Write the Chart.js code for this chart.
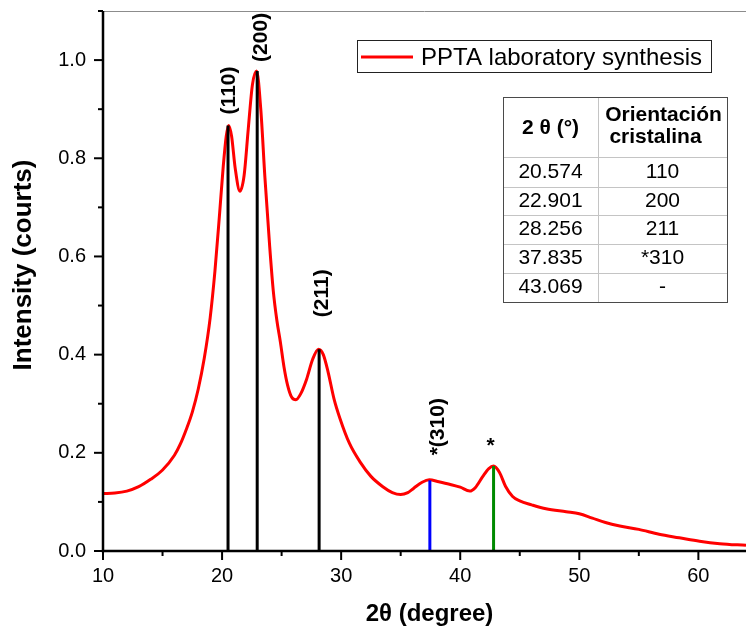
<!DOCTYPE html>
<html lang="es">
<head>
<meta charset="UTF-8">
<title>DRX PPTA</title>
<script src="https://cdn.jsdelivr.net/npm/chart.js"></script>
<style>
  html, body { margin: 0; padding: 0; background: #fff; }
  #wrap { width: 746px; height: 628px; }
</style>
</head>
<body>
<div id="wrap"><canvas id="grafico" width="746" height="628"></canvas></div>
<script>
// difractograma
const twoTheta = [10, 11, 12, 13, 14, 15, 16, 16.5, 17, 17.5, 18, 18.5, 19, 19.4, 19.8, 20.1, 20.35, 20.55, 20.8, 21.1,
  21.5, 21.85, 22.2, 22.55, 22.9, 23.25, 23.6, 24.0, 24.3, 24.6, 24.9, 25.2, 25.5, 25.85, 26.2, 26.6, 27.1, 27.6, 28.1, 28.5,
  28.9, 29.4, 29.9, 30.7, 31.6, 32.5, 33.5, 34.3, 35.0, 35.6, 36.1, 36.8, 37.4, 38.2, 39.1, 40.0, 40.8, 41.3, 41.9, 42.4,
  42.8, 43.3, 43.8, 44.4, 45.0, 46.0, 47.2, 48.9, 50.0, 51.1, 52.2, 53.4, 55.0, 56.7, 58.4, 60.1, 61.8, 64.0];
const intensity = [0.117, 0.118, 0.122, 0.131, 0.146, 0.165, 0.195, 0.218, 0.248, 0.283, 0.33, 0.392, 0.475, 0.57, 0.69, 0.784, 0.845, 0.867, 0.845, 0.78,
  0.733, 0.765, 0.86, 0.95, 0.978, 0.9, 0.76, 0.62, 0.53, 0.47, 0.425, 0.375, 0.338, 0.313, 0.308, 0.32, 0.35, 0.39, 0.411, 0.4,
  0.365, 0.31, 0.27, 0.219, 0.181, 0.152, 0.131, 0.119, 0.115, 0.119, 0.128, 0.14, 0.145, 0.141, 0.136, 0.13, 0.122, 0.13, 0.152, 0.168,
  0.173, 0.16, 0.132, 0.111, 0.102, 0.094, 0.086, 0.08, 0.076, 0.067, 0.058, 0.051, 0.044, 0.034, 0.027, 0.02, 0.015, 0.0115];

// líneas de los picos indexados
const peakPos = [20.5, 22.95, 28.15, 37.45, 42.8];
const peakHeight = [0.867, 0.978, 0.411, 0.144, 0.173];
const peakLabels = ['(110)', '(200)', '(211)', '*(310)', '*'];

// tabla
const tableAngles = ['20.574', '22.901', '28.256', '37.835', '43.069'];
const tableOrientation = ['110', '200', '211', '*310', '-'];

const xTicks = [10, 20, 30, 40, 50, 60];
const yTicks = [0.0, 0.2, 0.4, 0.6, 0.8, 1.0];

const seriesName = 'PPTA laboratory synthesis';

const FONT = "'Liberation Sans', Arial, sans-serif";
const dropColors = ['#000000', '#000000', '#000000', '#0000ff', '#008a00'];
// desplazamiento de las etiquetas respecto al pico (px)
const labelDx = [1, 4, 3.5, 8, -3];
const labelGap = [11, 9, 32, 25, 14];

const decor = {
    id: 'decor',
    afterDraw(chart) {
        const { ctx, chartArea: a, scales: { x, y } } = chart;
        ctx.save();

        function seg(x1, y1, x2, y2) {
            ctx.beginPath(); ctx.moveTo(x1, y1); ctx.lineTo(x2, y2); ctx.stroke();
        }

        // marco superior gris
        ctx.strokeStyle = '#8c8c8c';
        ctx.lineWidth = 1;
        seg(a.left, a.top + 0.5, a.right, a.top + 0.5);

        // ejes
        ctx.strokeStyle = '#000';
        ctx.lineWidth = 2.5;
        seg(a.left, a.top, a.left, a.bottom + 1.2);
        seg(a.left - 1.2, a.bottom, a.right, a.bottom);

        ctx.lineWidth = 2;
        for (let v = 10; v <= 64; v += 5) {
            const px = x.getPixelForValue(v);
            const len = v % 10 === 0 ? 9 : 5;
            seg(px, a.bottom, px, a.bottom + len);
        }
        for (let k = 0; k <= 11; k++) {
            const py = y.getPixelForValue(k / 10);
            const len = k % 2 === 0 ? 9 : 5;
            seg(a.left - len, py, a.left, py);
        }

        // títulos de ejes
        ctx.fillStyle = '#000';
        ctx.textAlign = 'center';
        ctx.textBaseline = 'middle';
        ctx.font = 'bold 24px ' + FONT;
        ctx.fillText('2θ (degree)', (a.left + a.right) / 2 + 5, 614);
        ctx.save();
        ctx.font = 'bold 26px ' + FONT;
        ctx.translate(24, 265);
        ctx.rotate(-Math.PI / 2);
        ctx.fillText('Intensity (courts)', 0, 0);
        ctx.restore();

        // etiquetas de picos
        ctx.font = 'bold 21px ' + FONT;
        peakLabels.forEach((lab, i) => {
            const px = x.getPixelForValue(peakPos[i]) + labelDx[i];
            const py = y.getPixelForValue(peakHeight[i]) - labelGap[i];
            if (lab === '*') {
                ctx.textAlign = 'center';
                ctx.textBaseline = 'alphabetic';
                ctx.fillText(lab, px, py);
            } else {
                ctx.save();
                ctx.translate(px, py);
                ctx.rotate(-Math.PI / 2);
                ctx.textAlign = 'left';
                ctx.textBaseline = 'middle';
                ctx.fillText(lab, 0, 0);
                ctx.restore();
            }
        });

        // leyenda
        ctx.fillStyle = '#fff';
        ctx.fillRect(357, 40, 355, 33);
        ctx.strokeStyle = '#222';
        ctx.lineWidth = 1;
        ctx.strokeRect(357.5, 40.5, 354, 32);
        ctx.strokeStyle = '#ff0000';
        ctx.lineWidth = 3;
        seg(361, 57, 413, 57);
        ctx.fillStyle = '#000';
        ctx.font = '24px ' + FONT;
        ctx.textAlign = 'left';
        ctx.textBaseline = 'alphabetic';
        ctx.fillText(seriesName, 421, 65);

        // tabla
        const tL = 503, tR = 727, tC = 598, tT = 97, tB = 302;
        const rowY = [157, 187, 215, 244, 273, 302];
        ctx.fillStyle = '#fff';
        ctx.fillRect(tL, tT, tR - tL, tB - tT);
        ctx.strokeStyle = '#c4c4c4';
        ctx.lineWidth = 1;
        for (let r = 0; r < rowY.length - 1; r++) seg(tL, rowY[r] + 0.5, tR, rowY[r] + 0.5);
        seg(tC + 0.5, tT, tC + 0.5, tB);
        ctx.strokeStyle = '#4a4a4a';
        ctx.strokeRect(tL + 0.5, tT + 0.5, tR - tL, tB - tT);

        ctx.fillStyle = '#000';
        ctx.textAlign = 'center';
        ctx.textBaseline = 'middle';
        ctx.font = 'bold 21px ' + FONT;
        ctx.fillText('2 θ (°)', (tL + tC) / 2, 128);
        ctx.fillText('Orientación', (tC + tR) / 2 + 1, 115);
        ctx.fillText('cristalina', (tC + tR) / 2 - 7, 137);
        ctx.font = '21px ' + FONT;
        tableAngles.forEach((t, r) => {
            const cy = (rowY[r] + rowY[r + 1]) / 2;
            ctx.fillText(t, (tL + tC) / 2, cy);
            ctx.fillText(tableOrientation[r], (tC + tR) / 2, cy);
        });

        ctx.restore();
    }
};

const datasets = [{
    label: seriesName,
    data: twoTheta.map((t, i) => ({ x: t, y: intensity[i] })),
    borderColor: '#ff0000',
    borderWidth: 3,
    pointRadius: 0,
    cubicInterpolationMode: 'monotone',
    order: 2
}];
peakPos.forEach((p, i) => {
    datasets.push({
        label: peakLabels[i],
        data: [{ x: p, y: 0 }, { x: p, y: peakHeight[i] }],
        borderColor: dropColors[i],
        borderWidth: 3,
        pointRadius: 0,
        order: 1
    });
});

function noPad(s) {
    s.paddingTop = 0; s.paddingBottom = 0; s.paddingLeft = 0; s.paddingRight = 0;
}

new Chart(document.getElementById('grafico').getContext('2d'), {
    type: 'line',
    data: { datasets },
    options: {
        responsive: false,
        animation: false,
        devicePixelRatio: 1,
        layout: { padding: { top: 11, right: 0, left: 0, bottom: 0 } },
        plugins: { legend: { display: false }, tooltip: { enabled: false } },
        scales: {
            x: {
                type: 'linear',
                min: 10,
                max: 64,
                afterBuildTicks: s => { s.ticks = xTicks.map(v => ({ value: v })); },
                afterFit: s => { s.height = 77; noPad(s); },
                grid: { display: false, drawTicks: false },
                border: { display: false },
                ticks: {
                    color: '#000',
                    font: { family: FONT, size: 20 },
                    padding: 13,
                    maxRotation: 0,
                    autoSkip: false,
                    callback: v => String(v)
                }
            },
            y: {
                type: 'linear',
                min: 0,
                max: 1.1,
                afterBuildTicks: s => { s.ticks = yTicks.map(v => ({ value: v })); },
                afterFit: s => { s.width = 103; noPad(s); },
                grid: { display: false, drawTicks: false },
                border: { display: false },
                ticks: {
                    color: '#000',
                    font: { family: FONT, size: 20 },
                    padding: 17,
                    autoSkip: false,
                    callback: v => v.toFixed(1)
                }
            }
        }
    },
    plugins: [decor]
});
</script>
</body>
</html>
